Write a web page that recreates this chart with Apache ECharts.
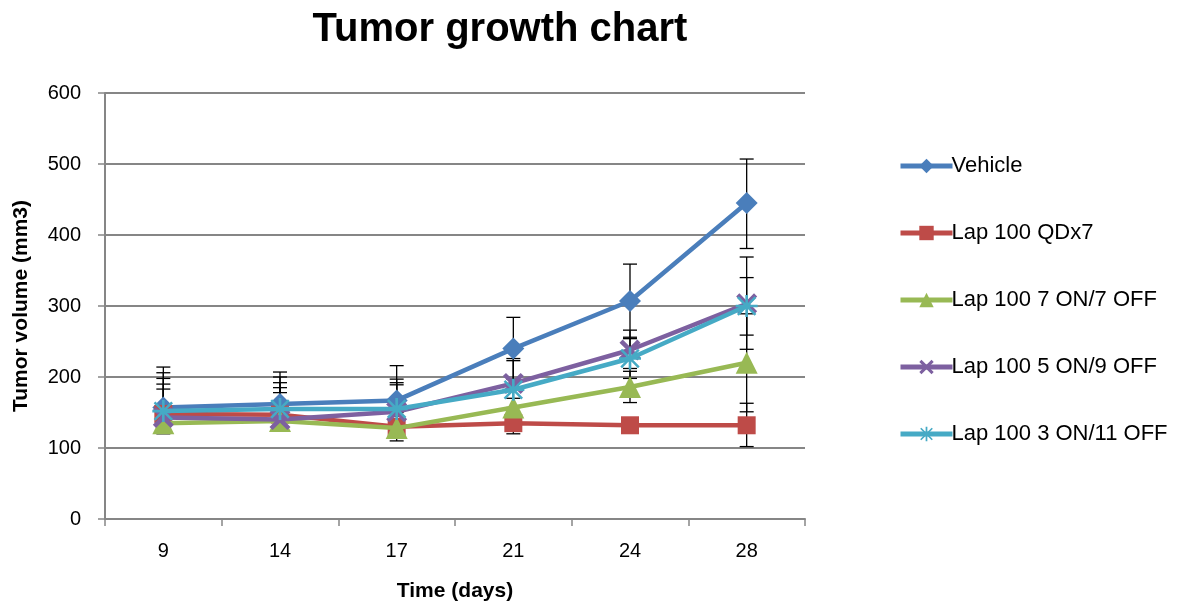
<!DOCTYPE html>
<html>
<head>
<meta charset="utf-8">
<script src="https://cdn.jsdelivr.net/npm/echarts@6/dist/echarts.min.js"></script>
<style>
html,body{margin:0;padding:0;background:#fff;}
#chart{width:1178px;height:609px;}
</style>
</head>
<body>
<div id="chart"></div>
<script>
var categories = ['9', '14', '17', '21', '24', '28'];
var seriesNames = ['Vehicle', 'Lap 100 QDx7', 'Lap 100 7 ON/7 OFF', 'Lap 100 5 ON/9 OFF', 'Lap 100 3 ON/11 OFF'];

var vehicle      = [157, 162, 167, 240, 307, 445];
var vehicleHigh  = [214, 207, 216, 284, 359, 507];
var vehicleLow   = [120, 150, 150, 197, 256, 381];

var qdx7         = [148, 147, 130, 135, 132, 132];
var qdx7High     = [206, 192, 189, 150, 142, 163];
var qdx7Low      = [138, 137, 121, 120, 122, 102];

var on7off7      = [135, 138, 128, 157, 186, 220];
var on7off7High  = [183, 178, 140, 170, 208, 289];
var on7off7Low   = [127, 130, 110, 145, 164, 151];

var on5off9      = [143, 140, 151, 191, 238, 303];
var on5off9High  = [190, 185, 192, 226, 266, 369];
var on5off9Low   = [135, 132, 140, 157, 212, 239];

var on3off11     = [152, 155, 155, 182, 226, 300];
var on3off11High = [198, 200, 197, 223, 254, 340];
var on3off11Low  = [142, 145, 145, 141, 198, 259];

var colors = ['#4A7EBB', '#BE4B48', '#98B954', '#7D60A0', '#46AAC5'];
var symbols = [
  'diamond',
  'rect',
  'triangle',
  'path://M1.5,0 L5,3.5 L8.5,0 L10,1.5 L6.5,5 L10,8.5 L8.5,10 L5,6.5 L1.5,10 L0,8.5 L3.5,5 L0,1.5 Z',
  'path://M4.4,0 L5.6,0 L5.6,3.6 L8.6,0.6 L9.4,1.4 L6.4,4.4 L10,4.4 L10,5.6 L6.4,5.6 L9.4,8.6 L8.6,9.4 L5.6,6.4 L5.6,10 L4.4,10 L4.4,6.4 L1.4,9.4 L0.6,8.6 L3.6,5.6 L0,5.6 L0,4.4 L3.6,4.4 L0.6,1.4 L1.4,0.6 L4.4,3.6 Z'
];
var symbolSizes = [22, 18, 22, 21, 22];

var allValues = [vehicle, qdx7, on7off7, on5off9, on3off11];
var allHigh = [vehicleHigh, qdx7High, on7off7High, on5off9High, on3off11High];
var allLow = [vehicleLow, qdx7Low, on7off7Low, on5off9Low, on3off11Low];

var font = 'Liberation Sans';
var series = [];

allValues.forEach(function (vals, s) {
  series.push({
    type: 'custom',
    name: seriesNames[s] + ' err',
    z: 1,
    silent: true,
    renderItem: function (params, api) {
      var x = api.value(0);
      var hi = api.coord([x, api.value(1)]);
      var lo = api.coord([x, api.value(2)]);
      var w = 7;
      var st = { stroke: '#000', lineWidth: 1.3 };
      return {
        type: 'group',
        children: [
          { type: 'line', shape: { x1: hi[0], y1: hi[1], x2: lo[0], y2: lo[1] }, style: st },
          { type: 'line', shape: { x1: hi[0] - w, y1: hi[1], x2: hi[0] + w, y2: hi[1] }, style: st },
          { type: 'line', shape: { x1: lo[0] - w, y1: lo[1], x2: lo[0] + w, y2: lo[1] }, style: st }
        ]
      };
    },
    data: vals.map(function (v, i) { return [i, allHigh[s][i], allLow[s][i]]; })
  });
});

allValues.forEach(function (vals, s) {
  series.push({
    type: 'line',
    name: seriesNames[s],
    z: 2 + s,
    data: vals,
    symbol: symbols[s],
    symbolSize: symbolSizes[s],
    showAllSymbol: true,
    lineStyle: { color: colors[s], width: 4.5 },
    itemStyle: { color: colors[s] },
    emphasis: { disabled: true }
  });
});

var chart = echarts.init(document.getElementById('chart'), null, { renderer: 'canvas' });
chart.setOption({
  animation: false,
  backgroundColor: '#fff',
  title: {
    text: 'Tumor growth chart',
    left: 495,
    textAlign: 'center',
    top: 5,
    textStyle: { fontFamily: font, fontSize: 40, fontWeight: 'bold', color: '#000' }
  },
  legend: {
    orient: 'vertical',
    left: 893,
    top: 150,
    itemWidth: 52,
    itemHeight: 18,
    itemGap: 45,
    data: seriesNames,
    lineStyle: { width: 5 },
    textStyle: { fontFamily: font, fontSize: 22, color: '#000', padding: [0, 0, 0, -6] }
  },
  grid: { left: 105, right: 373, top: 93, bottom: 90 },
  xAxis: {
    type: 'category',
    data: categories,
    boundaryGap: true,
    name: 'Time (days)',
    nameLocation: 'middle',
    nameGap: 62,
    nameTextStyle: { fontFamily: font, fontSize: 21, fontWeight: 'bold', color: '#000' },
    axisLine: { lineStyle: { color: '#868686', width: 2 } },
    axisTick: { show: true, length: 7, alignWithLabel: false, lineStyle: { color: '#868686', width: 1.5 } },
    axisLabel: { fontFamily: font, fontSize: 20, color: '#000', margin: 22 },
    splitLine: { show: false }
  },
  yAxis: {
    type: 'value',
    min: 0,
    max: 600,
    interval: 100,
    name: 'Tumor volume (mm3)',
    nameLocation: 'middle',
    nameGap: 73,
    nameTextStyle: { fontFamily: font, fontSize: 21, fontWeight: 'bold', color: '#000' },
    axisLine: { show: true, lineStyle: { color: '#868686', width: 2 } },
    axisTick: { show: true, length: 7, lineStyle: { color: '#868686', width: 1.5 } },
    axisLabel: { fontFamily: font, fontSize: 20, color: '#000', margin: 24 },
    splitLine: { lineStyle: { color: '#868686', width: 2 } }
  },
  series: series
});
</script>
</body>
</html>
